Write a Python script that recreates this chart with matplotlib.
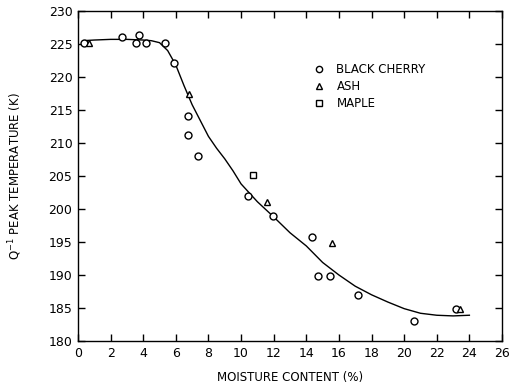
import matplotlib
matplotlib.use("Agg")
import matplotlib.pyplot as plt

# Data
cherry_x = [0.39, 2.68, 3.76, 3.56, 4.17, 5.32, 5.87, 6.77, 6.77, 7.36, 10.41, 11.94, 14.33, 14.74, 15.48, 17.18, 20.63, 23.15]
cherry_y = [225.2, 226.1, 226.3, 225.2, 225.1, 225.2, 222.1, 214.1, 211.2, 208.0, 202.0, 198.9, 195.8, 189.8, 189.9, 186.9, 183.1, 184.8]
ash_x = [0.67, 6.81, 11.6, 15.58, 23.4]
ash_y = [225.1, 217.4, 201.1, 194.9, 184.8]
maple_x = [10.76]
maple_y = [205.2]

curve_x = [0.3, 1, 2, 3, 4, 4.5, 5, 5.5, 6, 6.5, 7, 7.5, 8, 8.5, 9, 9.5, 10, 11, 12, 13, 14, 15, 16, 17, 18, 19, 20, 21, 22, 23, 24]
curve_y = [225.5, 225.6, 225.7, 225.7, 225.6, 225.5, 225.2, 224.0, 221.8, 218.7, 215.8, 213.4, 211.0, 209.2, 207.6, 205.8, 203.8, 201.1, 198.8, 196.4, 194.4, 191.9, 190.0, 188.3, 187.0, 185.9, 184.9, 184.2, 183.9, 183.8, 183.9]

xticks = list(range(0, 27, 2))
yticks = list(range(180, 231, 5))

plt.rcParams['font.family'] = ['DejaVu Sans']
fig = plt.figure(figsize=(5.11, 3.87), dpi=100)
ax = fig.add_axes([0.1526, 0.1189, 0.8298, 0.8527])

ax.plot(curve_x, curve_y, color='black', lw=1.0)
ax.plot(cherry_x, cherry_y, 'o', ms=5, mfc='white', mec='black', mew=1.0, ls='none', label='BLACK CHERRY')
ax.plot(ash_x, ash_y, '^', ms=5, mfc='white', mec='black', mew=1.0, ls='none', label='ASH')
ax.plot(maple_x, maple_y, 's', ms=4.5, mfc='white', mec='black', mew=1.0, ls='none', label='MAPLE')

ax.set_xlim(0, 26)
ax.set_ylim(180, 230)
ax.set_xticks(xticks)
ax.set_yticks(yticks)
ax.tick_params(direction='in', length=5, width=1, top=True, right=True, labelsize=9, pad=4)
for s in ax.spines.values():
    s.set_linewidth(1.0)

ax.set_xlabel('MOISTURE CONTENT (%)', fontsize=8.5, labelpad=8)
ax.set_ylabel('Q$^{-1}$ PEAK TEMPERATURE (K)', fontsize=8.5, labelpad=18)

leg = ax.legend(loc='upper left', bbox_to_anchor=(0.515, 0.875), frameon=False,
                fontsize=8.5, handletextpad=0.5, labelspacing=0.35, markerscale=0.9)

fig.savefig('out.png', dpi=100)
